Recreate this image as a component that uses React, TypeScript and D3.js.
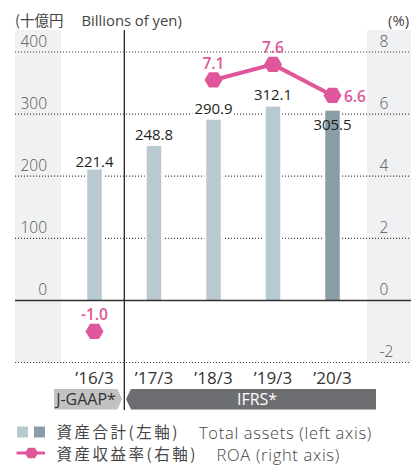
import React from "react";
import * as d3 from "d3";

const categories = ["’16/3", "’17/3", "’18/3", "’19/3", "’20/3"];
const totalAssets = [221.4, 248.8, 290.9, 312.1, 305.5];
const roa: (number | null)[] = [-1.0, null, 7.1, 7.6, 6.6];
const leftTicks = [0, 100, 200, 300, 400];
const rightTicks = [-2, 0, 2, 4, 6, 8];
const highlightIndex = 4;

// layout (annotation offsets, not data)
const barLabelDy = [4, -5.5, -6, -6.5, 19];
const W = 411, H = 468;
const LAT = "'Open Sans', 'Noto Sans', sans-serif";
const CJK = "'Noto Sans CJK JP', sans-serif";
const PINK = "#e0569a";

function hexPath(r: number, h: number) {
  return `M${r},0L${r / 2},${h}L${-r / 2},${h}L${-r},0L${-r / 2},${-h}L${r / 2},${-h}Z`;
}

export default function App() {
  const yL = d3.scaleLinear().domain([-100, 400]).range([362.5, 52]);
  const yR = d3.scaleLinear().domain([-2, 8]).range([362.5, 52]);
  const x = d3.scalePoint<string>().domain(categories).range([94.5, 332.5]);
  const bw = 14.5;
  const gx0 = 15, gx1 = 411;

  const pts = categories.map((c, i) => ({ c, v: roa[i] }));
  const line = d3
    .line<{ c: string; v: number | null }>()
    .defined((d) => d.v != null)
    .x((d) => x(d.c)!)
    .y((d) => yR(d.v as number));

  const hex = hexPath(9, 7.6);

  return (
    <svg
      width={W}
      height={H}
      style={{ position: "absolute", left: 0, top: 0, background: "#fff" }}
    >
      {/* gray panels */}
      <rect x={15} y={30} width={46} height={332.5} fill="#f0f1f3" />
      <rect x={367} y={30} width={44} height={332.5} fill="#f0f1f3" />

      {/* header labels */}
      <text x={15} y={26} fontFamily={CJK} fontSize={14.5} fill="#444">
        (十億円
      </text>
      <text x={81.5} y={26} fontFamily={LAT} fontSize={14.8} fill="#444">
        Billions of yen)
      </text>
      <text x={409} y={26} fontFamily={LAT} fontSize={14.8} fill="#444" textAnchor="end">
        (%)
      </text>

      {/* gridlines */}
      {leftTicks
        .filter((t) => t !== 0)
        .map((t) => (
          <line key={"g" + t} x1={gx0} x2={gx1} y1={yL(t)} y2={yL(t)} stroke="#444" strokeWidth={1.2} strokeDasharray="1.1 1.9" />
        ))}
      <line x1={gx0} x2={gx1} y1={yR(-2)} y2={yR(-2)} stroke="#444" strokeWidth={1.2} strokeDasharray="1.1 1.9" />

      {/* left tick labels */}
      {leftTicks.map((t) => (
        <text key={"l" + t} x={47} y={yL(t) - 5.5} textAnchor="end" fontFamily={LAT} fontSize={15.5} fontWeight={300} fill="#555">
          {t}
        </text>
      ))}
      {/* right tick labels */}
      {rightTicks.map((t) => (
        <text key={"r" + t} x={379.5} y={yR(t) - 5.5} fontFamily={LAT} fontSize={15.5} fontWeight={300} fill="#555">
          {t < 0 ? "-" + Math.abs(t) : t}
        </text>
      ))}

      {/* bars */}
      {categories.map((c, i) => (
        <g key={"b" + c}>
          <rect x={x(c)! - bw / 2 - 2} y={yL(totalAssets[i]) - 2} width={bw + 4} height={yL(0) - yL(totalAssets[i]) + 2} fill="#fff" />
          <rect
            x={x(c)! - bw / 2}
            y={yL(totalAssets[i])}
            width={bw}
            height={yL(0) - yL(totalAssets[i])}
            fill={i === highlightIndex ? "#8a9da7" : "#b9c9d1"}
          />
        </g>
      ))}

      {/* zero line */}
      <line x1={gx0} x2={gx1} y1={yL(0)} y2={yL(0)} stroke="#333" strokeWidth={1.5} />

      {/* divider */}
      <line x1={124.3} x2={124.3} y1={30} y2={410} stroke="#222" strokeWidth={1.3} />

      {/* bar labels */}
      {categories.map((c, i) => (
        <text
          key={"bl" + c}
          x={x(c)!}
          y={yL(totalAssets[i]) + barLabelDy[i]}
          textAnchor="middle"
          fontFamily={LAT}
          fontSize={15}
          fontWeight={500}
          fill="#231f20"
          stroke={i === highlightIndex ? "none" : "#fff"}
          strokeWidth={5}
          paintOrder="stroke"
        >
          {totalAssets[i].toFixed(1)}
        </text>
      ))}

      {/* ROA line */}
      <path d={line(pts) || ""} fill="none" stroke={PINK} strokeWidth={4} />
      {pts.map((p) =>
        p.v == null ? null : (
          <path key={"m" + p.c} d={hex} transform={`translate(${x(p.c)},${yR(p.v)})`} fill={PINK} />
        )
      )}
      {pts.map((p, i) =>
        p.v == null ? null : i === highlightIndex ? (
          <text key={"rl" + p.c} x={x(p.c)! + 11.5} y={yR(p.v) + 7} fontFamily={LAT} fontSize={15.5} fontWeight={600} fill={PINK}>
            {p.v.toFixed(1)}
          </text>
        ) : (
          <text key={"rl" + p.c} x={x(p.c)!} y={yR(p.v) - 11} textAnchor="middle" fontFamily={LAT} fontSize={15.5} fontWeight={600} fill={PINK}>
            {p.v < 0 ? "-" + Math.abs(p.v).toFixed(1) : p.v.toFixed(1)}
          </text>
        )
      )}

      {/* category labels */}
      {categories.map((c) => (
        <text key={"c" + c} x={x(c)!} y={384} textAnchor="middle" fontFamily={LAT} fontSize={17} fill="#333">
          {c}
        </text>
      ))}

      {/* standard badges */}
      <polygon points="54,389 117.5,389 122,399 117.5,409.5 54,409.5" fill="#c2c2c2" />
      <text x={86} y={405} textAnchor="middle" fontFamily={LAT} fontSize={16} fill="#333">
        J-GAAP*
      </text>
      <polygon points="126,399 131,389 376,389 376,409.5 131,409.5" fill="#6d6e71" />
      <text x={257} y={405} textAnchor="middle" fontFamily={LAT} fontSize={16} fill="#fff">
        IFRS*
      </text>

      {/* legend */}
      <rect x={17} y={426.5} width={11} height={11} fill="#b9c9d1" />
      <rect x={34} y={426.5} width={11} height={11} fill="#8a9da7" />
      <text x={56.5} y={438} fontFamily={CJK} fontSize={15.5} letterSpacing={2.5} fill="#444">
        資産合計(左軸)
      </text>
      <text x={199} y={439} fontFamily={LAT} fontSize={16.5} fontWeight={300} letterSpacing={0.7} fill="#444">
        Total assets (left axis)
      </text>
      <line x1={16.5} x2={45} y1={453} y2={453} stroke={PINK} strokeWidth={3} />
      <path d={hexPath(6.7, 5.2)} transform="translate(31.5,453)" fill={PINK} />
      <text x={56.5} y={460} fontFamily={CJK} fontSize={15.5} letterSpacing={2.5} fill="#444">
        資産収益率(右軸)
      </text>
      <text x={216.5} y={461} fontFamily={LAT} fontSize={16.5} fontWeight={300} letterSpacing={0.7} fill="#444">
        ROA (right axis)
      </text>
    </svg>
  );
}
